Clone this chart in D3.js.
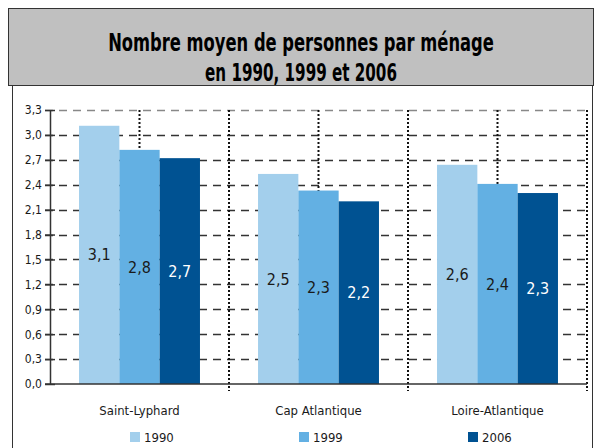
<!DOCTYPE html>
<html>
<head>
<meta charset="utf-8">
<script src="https://cdn.jsdelivr.net/npm/d3@7"></script>
<style>
  body { margin: 0; background: #fff; }
  svg text { font-family: "DejaVu Sans Condensed", "Liberation Sans Narrow", sans-serif; fill: #1a1a1a; }
</style>
</head>
<body>
<svg id="chart" width="596" height="448"></svg>
<script>
// data
var categories = ["Saint-Lyphard", "Cap Atlantique", "Loire-Atlantique"];
var years = ["1990", "1999", "2006"];
var values1990 = [3.11, 2.53, 2.64];
var values1999 = [2.82, 2.33, 2.41];
var values2006 = [2.72, 2.20, 2.30];
var yTicks = [0, 0.3, 0.6, 0.9, 1.2, 1.5, 1.8, 2.1, 2.4, 2.7, 3.0, 3.3];
var titleLines = ["Nombre moyen de personnes par ménage", "en 1990, 1999 et 2006"];
var colors = ["#a3cfec", "#63b0e3", "#005292"];

var series = [values1990, values1999, values2006];

var svg = d3.select("#chart");

// title box
svg.append("rect")
    .attr("x", 8.5).attr("y", 8.5)
    .attr("width", 585).attr("height", 77)
    .style("fill", "#c0c0c0")
    .style("stroke", "#333")
    .style("stroke-width", 1);

// title, squeezed horizontally to look like a condensed face
var titleWidths = [386, 192];
titleLines.forEach(function(line, i) {
  var t = svg.append("text")
      .attr("text-anchor", "middle")
      .style("font-size", "24px").style("font-weight", "bold").style("fill", "#000")
      .text(line);
  var k = titleWidths[i] / t.node().getComputedTextLength();
  t.attr("transform", "translate(301," + (51 + i * 30) + ") scale(" + k + ",1)");
});

// outer frame lines
svg.append("path")
    .attr("d", "M12.5,86 V448 M592.5,86 V448")
    .style("stroke", "#333").style("fill", "none");

var x0 = d3.scaleBand()
    .domain(categories)
    .range([50, 587])
    .paddingInner(0).paddingOuter(0);

var x1 = d3.scaleBand()
    .domain(years)
    .range([0, x0.bandwidth()])
    .paddingInner(0).paddingOuter(0.72);

var y = d3.scaleLinear()
    .domain([0, 3.3])
    .range([384, 110]);

var fmt = function(v) { return d3.format(".1f")(v).replace(".", ","); };

// horizontal dashed grid
svg.append("g").selectAll("line")
    .data(yTicks.filter(function(d) { return d > 0; }))
  .enter().append("line")
    .attr("x1", 45).attr("x2", 587)
    .attr("y1", function(d) { return Math.round(y(d)) + 0.5; })
    .attr("y2", function(d) { return Math.round(y(d)) + 0.5; })
    .style("stroke", function(d) { return d === 3.3 ? "#888" : "#333"; })
    .style("stroke-width", 1.5)
    .style("stroke-dasharray", "8,6");

// vertical dotted lines at band edges and centers
var vlines = [];
categories.forEach(function(c) {
  vlines.push({x: x0(c) + x0.bandwidth() / 2, bottom: 384});
  vlines.push({x: x0(c) + x0.bandwidth(), bottom: 391});
});
svg.append("g").selectAll("line")
    .data(vlines)
  .enter().append("line")
    .attr("x1", function(d) { return d.x; })
    .attr("x2", function(d) { return d.x; })
    .attr("y1", y(3.3))
    .attr("y2", function(d) { return d.bottom; })
    .style("stroke", "#111")
    .style("stroke-width", 2)
    .style("stroke-dasharray", "2,2");

// bars
var groups = svg.append("g").selectAll("g")
    .data(categories)
  .enter().append("g")
    .attr("transform", function(c) { return "translate(" + x0(c) + ",0)"; });

function rows(c, i) {
  return years.map(function(yr, j) { return {year: yr, j: j, v: series[j][i]}; });
}

groups.selectAll("rect")
    .data(rows)
  .enter().append("rect")
    .attr("x", function(d) { return x1(d.year); })
    .attr("width", x1.bandwidth())
    .attr("y", function(d) { return y(d.v); })
    .attr("height", function(d) { return y(0) - y(d.v); })
    .style("fill", function(d) { return colors[d.j]; });

groups.selectAll("text")
    .data(rows)
  .enter().append("text")
    .attr("x", function(d) { return x1(d.year) + x1.bandwidth() / 2; })
    .attr("y", function(d) { return (y(d.v) + y(0)) / 2; })
    .attr("dy", "0.35em")
    .attr("text-anchor", "middle")
    .style("font-size", "16px")
    .style("fill", function(d) { return d.j === 2 ? "#fff" : "#1a1a1a"; })
    .text(function(d) { return fmt(d.v); });

// y axis
var yAxis = svg.append("g")
    .attr("transform", "translate(50,0)")
    .call(d3.axisLeft(y).tickValues(yTicks).tickFormat(fmt).tickSizeInner(5).tickSizeOuter(0));
yAxis.select(".domain").style("stroke", "#333").style("stroke-width", 1.5);
yAxis.selectAll(".tick line").attr("x2", 5).attr("x1", -5).style("stroke", "#333").style("stroke-width", 1.5);
yAxis.selectAll(".tick text").attr("x", -8).style("font-size", "12px").style("font-family", null);

// x axis line
svg.append("line")
    .attr("x1", 45).attr("x2", 587)
    .attr("y1", y(0)).attr("y2", y(0))
    .style("stroke", "#333").style("stroke-width", 1.5);

// category labels
svg.append("g").selectAll("text")
    .data(categories)
  .enter().append("text")
    .attr("x", function(c) { return x0(c) + x0.bandwidth() / 2; })
    .attr("y", 415)
    .attr("text-anchor", "middle")
    .style("font-size", "13px")
    .text(function(c) { return c; });

// legend
var legend = svg.append("g").selectAll("g")
    .data(years)
  .enter().append("g")
    .attr("transform", function(d, i) { return "translate(" + (130 + i * 169) + ",432)"; });
legend.append("rect")
    .attr("width", 10).attr("height", 10)
    .style("fill", function(d, i) { return colors[i]; });
legend.append("text")
    .attr("x", 14).attr("y", 10)
    .style("font-size", "13px")
    .text(function(d) { return d; });
</script>
</body>
</html>
